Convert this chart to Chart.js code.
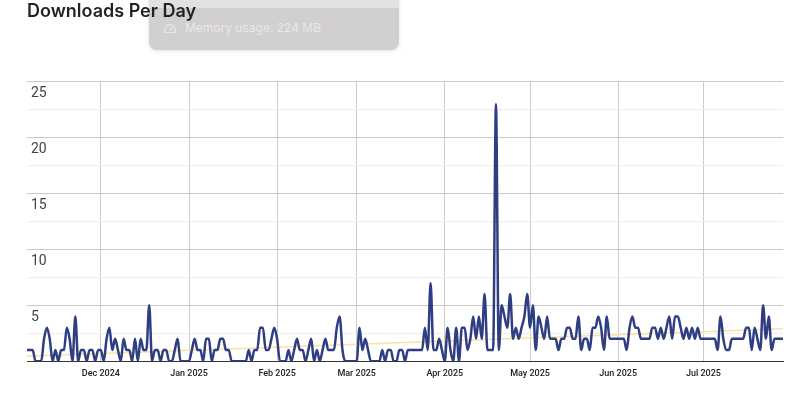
<!DOCTYPE html>
<html>
<head>
<meta charset="utf-8">
<title>Downloads Per Day</title>
<script src="https://cdn.jsdelivr.net/npm/chart.js@4"></script>
<style>
  html, body { margin: 0; padding: 0; background: #fff; overflow: hidden; }
  #wrap { position: relative; width: 800px; height: 393px; }
  #chart { position: relative; z-index: 1; }
  #popup {
    position: absolute; z-index: 0; left: 149px; top: -10px; width: 250px; height: 60px;
    background: #d1cfcf; border-radius: 8px;
    box-shadow: 0 1px 4px rgba(0, 0, 0, 0.12);
    font: 12px Inter, sans-serif; color: #e9e8e8;
  }
  #popup .head { height: 18px; background: #e3e1e1; border-radius: 8px 8px 0 0; }
  #popup .row { position: absolute; left: 36px; top: 30px; }
  #popup svg { position: absolute; left: 14px; top: 32px; }
</style>
</head>
<body>
<div id="wrap">
  <canvas id="chart" width="800" height="393"></canvas>
  <div id="popup">
    <div class="head"></div>
    <svg width="14" height="12" viewBox="0 0 14 12" fill="none" stroke="#e9e8e8" stroke-width="1.2">
      <path d="M2 10.5a5.5 5.5 0 1 1 10 0z"/><path d="M7 8l2.5-3"/>
    </svg>
    <div class="row">Memory usage: 224 MB</div>
  </div>
</div>
<script>
const startDate = "2024-11-05";

// une valeur par jour
const downloads = [
  1, 1, 1, 0, 0, 0, 2, 3, 2, 0,
  1, 0, 1, 1, 3, 2, 0, 4, 0, 1,
  1, 0, 1, 1, 0, 1, 1, 0, 2, 3,
  1, 2, 1, 0, 2, 1, 1, 0, 2, 0,
  2, 1, 1, 5, 0, 1, 1, 0, 1, 1,
  0, 0, 1, 2, 0, 0, 0, 0, 1, 2,
  1, 1, 0, 2, 2, 0, 1, 1, 2, 2,
  1, 1, 0, 0, 0, 0, 0, 0, 1, 0,
  1, 1, 3, 3, 1, 1, 2, 3, 2, 0,
  0, 0, 1, 0, 1, 2, 1, 1, 0, 1,
  2, 0, 1, 0, 1, 2, 1, 1, 1, 3,
  4, 1, 0, 0, 0, 0, 0, 3, 1, 2,
  1, 0, 0, 0, 0, 1, 0, 1, 1, 0,
  0, 1, 1, 0, 1, 1, 1, 1, 1, 1,
  3, 1, 7, 1, 1, 2, 1, 0, 3, 1,
  0, 3, 0, 3, 3, 1, 2, 4, 2, 4,
  2, 6, 1, 1, 1, 23, 1, 5, 4, 3,
  6, 2, 3, 2, 3, 4, 6, 3, 5, 1,
  4, 3, 2, 4, 2, 2, 2, 1, 2, 2,
  3, 3, 2, 2, 4, 1, 2, 2, 1, 3,
  3, 4, 3, 1, 4, 2, 2, 2, 2, 2,
  2, 1, 3, 4, 3, 3, 2, 2, 2, 2,
  3, 3, 2, 3, 2, 3, 4, 2, 4, 4,
  3, 2, 3, 2, 3, 2, 3, 2, 2, 2,
  2, 2, 2, 1, 4, 2, 1, 1, 2, 2,
  2, 2, 2, 3, 3, 1, 3, 2, 1, 5,
  2, 4, 1, 2, 2, 2, 2
];

// courbe de tendance : valeurs lues aux deux extrémités
const trendStart = 0.45;
const trendEnd = 2.9;

const monthNames = ["Jan", "Feb", "Mar", "Apr", "May", "Jun", "Jul", "Aug", "Sep", "Oct", "Nov", "Dec"];

// Libellés des jours
const labels = downloads.map((_, i) => {
  const d = new Date(startDate + "T00:00:00Z");
  d.setUTCDate(d.getUTCDate() + i);
  return d.getUTCDate() === 1 ? monthNames[d.getUTCMonth()] + " " + d.getUTCFullYear() : "";
});

const trend = downloads.map(() => null);
trend[0] = trendStart;
trend[trend.length - 1] = trendEnd;

new Chart(document.getElementById("chart"), {
  type: "line",
  data: {
    labels,
    datasets: [
      {
        label: "Downloads",
        data: downloads,
        borderColor: "#2f3e82",
        borderWidth: 2.5,
        cubicInterpolationMode: "monotone",
        pointRadius: 0,
        order: 1,
      },
      {
        label: "Trend",
        data: trend,
        borderColor: "rgba(250, 225, 160, 1)",
        borderWidth: 1.5,
        spanGaps: true,
        pointRadius: 0,
        order: 2,
      },
    ],
  },
  options: {
    responsive: false,
    animation: false,
    layout: { padding: { left: 27, right: 17, top: 1, bottom: 7 } },
    plugins: {
      legend: { display: false },
      tooltip: { enabled: false },
      title: {
        display: true,
        text: "Downloads Per Day",
        align: "start",
        color: "#1f2328",
        font: { family: "Inter", size: 18, weight: "600" },
        padding: { top: 0, bottom: 59 },
      },
    },
    scales: {
      x: {
        afterBuildTicks: (axis) => {
          axis.ticks = axis.ticks.filter((t) => labels[t.value] !== "");
        },
        grid: { color: "#cccccc", lineWidth: 1, drawTicks: false },
        border: { color: "#333333", width: 1 },
        ticks: {
          autoSkip: false,
          maxRotation: 0,
          padding: 7,
          color: "#222222",
          font: { family: "Roboto", size: 9, weight: "500" },
        },
      },
      y: {
        min: 0,
        max: 25,
        afterBuildTicks: (axis) => {
          axis.ticks = [0, 2.5, 5, 7.5, 10, 12.5, 15, 17.5, 20, 22.5, 25].map((value) => ({ value }));
        },
        afterFit: (axis) => {
          axis.width = 0;
        },
        grid: {
          color: (ctx) => (ctx.tick.value % 5 === 0 ? "#c9c9c9" : "#eeeeee"),
          drawTicks: false,
        },
        border: { display: false },
        ticks: {
          mirror: true,
          padding: 4,
          labelOffset: 12,
          color: "#444444",
          font: { family: "Roboto", size: 14 },
          callback: (value) => (value !== 0 && value % 5 === 0 ? value : ""),
        },
      },
    },
  },
});
</script>
</body>
</html>
